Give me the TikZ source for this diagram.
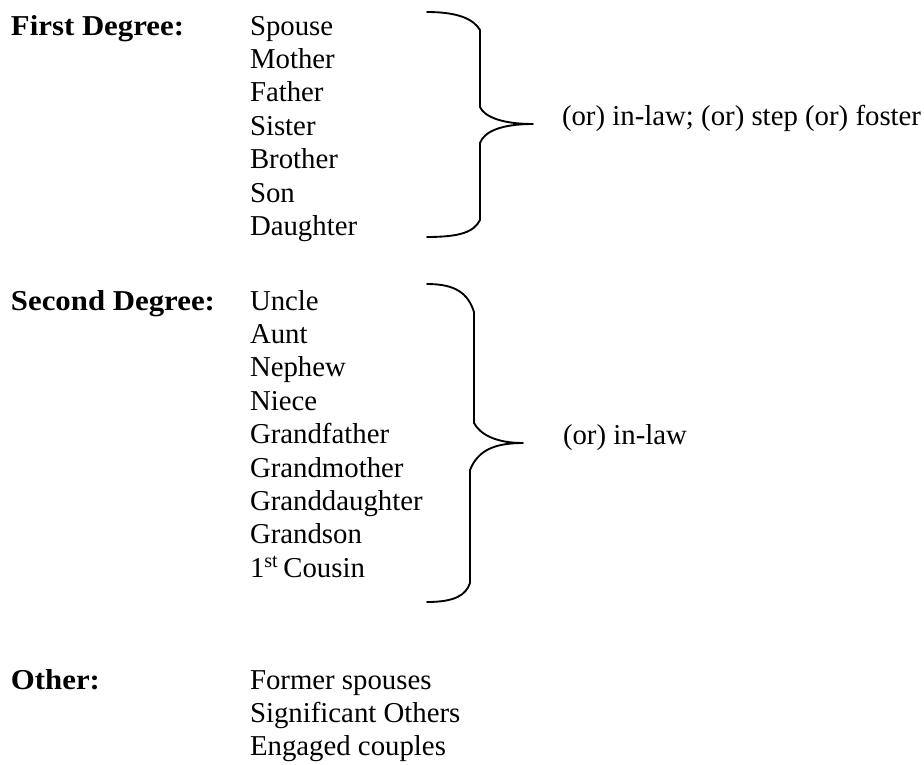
\documentclass[tikz,border=0pt]{standalone}
\usepackage{fontspec}
\setmainfont{Liberation Serif}[BoldFeatures={FakeStretch=1.07}]
\begin{document}
\begin{tikzpicture}[x=0.75pt,y=-0.75pt,
  txt/.style={anchor=base west,inner sep=0pt,outer sep=0pt,font=\fontsize{21.6}{25}\selectfont},
  hdr/.style={txt,font=\fontsize{21.6}{25}\selectfont\bfseries},
  bracestyle/.style={line width=1.4pt,line join=round,line cap=round}]
\useasboundingbox (0,0) rectangle (924,764);
% headers
\node[hdr] (h1) at (11,35) {First Degree:};
\node[hdr] (h2) at (11,310) {Second Degree:};
\node[hdr] (h3) at (11,689) {Other:};
% first degree
\foreach \t [count=\i from 0] in {Spouse,Mother,Father,Sister,Brother,Son,Daughter}
  \node[txt] (a\i) at (250,35+\i*33.4) {\t};
% second degree
\foreach \t [count=\i from 0] in {Uncle,Aunt,Nephew,Niece,Grandfather,Grandmother,Granddaughter,Grandson,{1\textsuperscript{st}\,Cousin}}
  \node[txt] (b\i) at (250,310+\i*33.4) {\t};
% other
\foreach \t [count=\i from 0] in {Former spouses,Significant Others,Engaged couples}
  \node[txt] (c\i) at (250,689+\i*33.4) {\t};
% braces
\coordinate (t1) at (533,124);
\coordinate (t2) at (523,443);
\draw[bracestyle] (427,12) .. controls (460,12) and (474,20) .. (480,30)
  -- (480,107) .. controls (484,116) and (500,124) .. (t1)
  .. controls (500,124) and (484,132) .. (480,143)
  -- (480,220) .. controls (474,232) and (460,237) .. (427,237);
\draw[bracestyle] (427,284) .. controls (455,284) and (468,293) .. (474,312)
  -- (474,423) .. controls (480,434) and (495,443) .. (t2)
  .. controls (495,443) and (478,450) .. (470,470)
  -- (470,583) .. controls (466,595) and (455,602) .. (427,602);
\node[txt] (r1) at (562,125) {(or) in-law; (or) step (or) foster};
\node[txt] (r2) at (563,444) {(or) in-law};
\end{tikzpicture}
\end{document}
